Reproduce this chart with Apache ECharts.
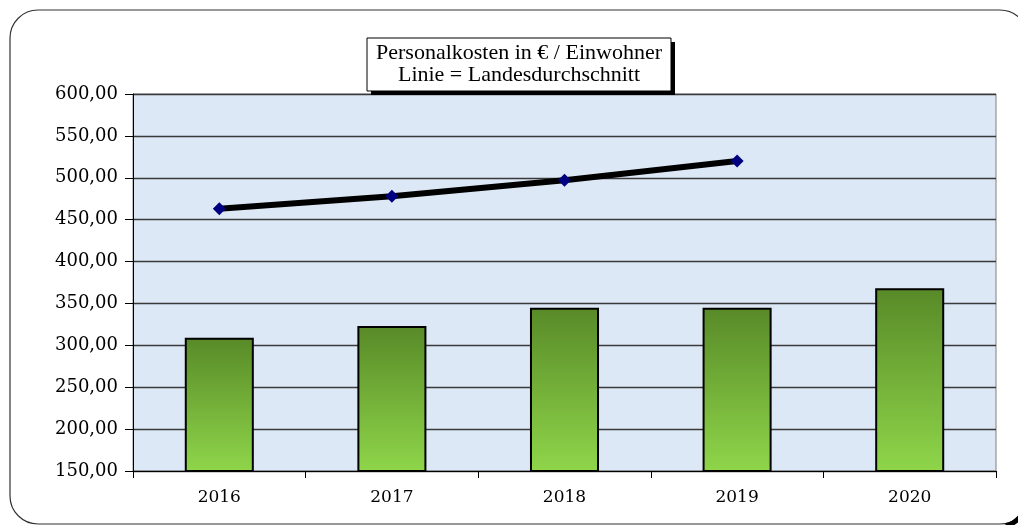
<!DOCTYPE html>
<html>
<head>
<meta charset="utf-8">
<script src="https://cdn.jsdelivr.net/npm/echarts@6/dist/echarts.min.js"></script>
<style>html,body{margin:0;padding:0;background:#fff;}#c{width:1018px;height:525px;}</style>
</head>
<body>
<div id="c"></div>
<script>
var categories = ['2016', '2017', '2018', '2019', '2020'];
var personalkosten = [309, 323, 345, 345, 368];
var landesdurchschnitt = [463, 478, 497, 520, null];
var yMin = 150, yMax = 600, yStep = 50;
var titleLines = ['Personalkosten in € / Einwohner', 'Linie = Landesdurchschnitt'];

var chart = echarts.init(document.getElementById('c'));
chart.setOption({
  animation: false,
  backgroundColor: '#ffffff',
  grid: {
    left: 133, right: 22, top: 94, bottom: 54,
    show: true, backgroundColor: '#dce8f6', borderColor: '#808080', borderWidth: 1
  },
  graphic: [
    {
      type: 'rect', z: 0,
      shape: { x: 10, y: 10, width: 1018, height: 514, r: 28 },
      style: { fill: 'none', stroke: '#333333', lineWidth: 1.2 }
    },
    {
      type: 'arc', z: 0,
      shape: { cx: 998, cy: 498, r: 29, startAngle: 0.6, endAngle: 1.3 },
      style: { fill: 'none', stroke: '#000000', lineWidth: 5 }
    },
    {
      type: 'rect', z: 10,
      shape: { x: 371, y: 42, width: 304, height: 53 },
      style: { fill: '#000000' }
    },
    {
      type: 'rect', z: 11,
      shape: { x: 367, y: 38, width: 304, height: 53 },
      style: { fill: '#ffffff', stroke: '#000000', lineWidth: 1 }
    },
    {
      type: 'text', z: 12,
      style: {
        x: 519, y: 64.5, text: titleLines.join('\n'),
        font: '22px "Liberation Serif", serif', fill: '#000000',
        align: 'center', verticalAlign: 'middle', lineHeight: 22
      }
    }
  ],
  xAxis: {
    type: 'category', data: categories, boundaryGap: true,
    axisLine: { lineStyle: { color: '#000000', width: 1 } },
    axisTick: { show: true, length: 7, inside: false, lineStyle: { color: '#000000' } },
    axisLabel: { color: '#000000', fontFamily: 'DejaVu Serif', fontSize: 17, margin: 18 },
    splitLine: { show: false }
  },
  yAxis: {
    type: 'value', min: yMin, max: yMax, interval: yStep,
    axisLine: { show: true, lineStyle: { color: '#000000', width: 1 } },
    axisTick: { show: true, length: 8, lineStyle: { color: '#000000' } },
    axisLabel: {
      color: '#000000', fontFamily: 'DejaVu Serif', fontSize: 18, margin: 15,
      formatter: function (v) { return v.toFixed(2).replace('.', ','); }
    },
    splitLine: { show: true, lineStyle: { color: '#3a3a3a', width: 1.3 } }
  },
  series: [
    {
      type: 'bar', data: personalkosten, barWidth: '40%',
      itemStyle: {
        borderColor: '#000000', borderWidth: 2,
        color: new echarts.graphic.LinearGradient(0, 0, 0, 1, [
          { offset: 0, color: '#588a28' },
          { offset: 1, color: '#8fd64a' }
        ])
      }
    },
    {
      type: 'line', data: landesdurchschnitt, z: 5,
      symbol: 'diamond', symbolSize: 13,
      lineStyle: { color: '#000000', width: 6 },
      itemStyle: { color: '#000080' }
    }
  ]
});
</script>
</body>
</html>
